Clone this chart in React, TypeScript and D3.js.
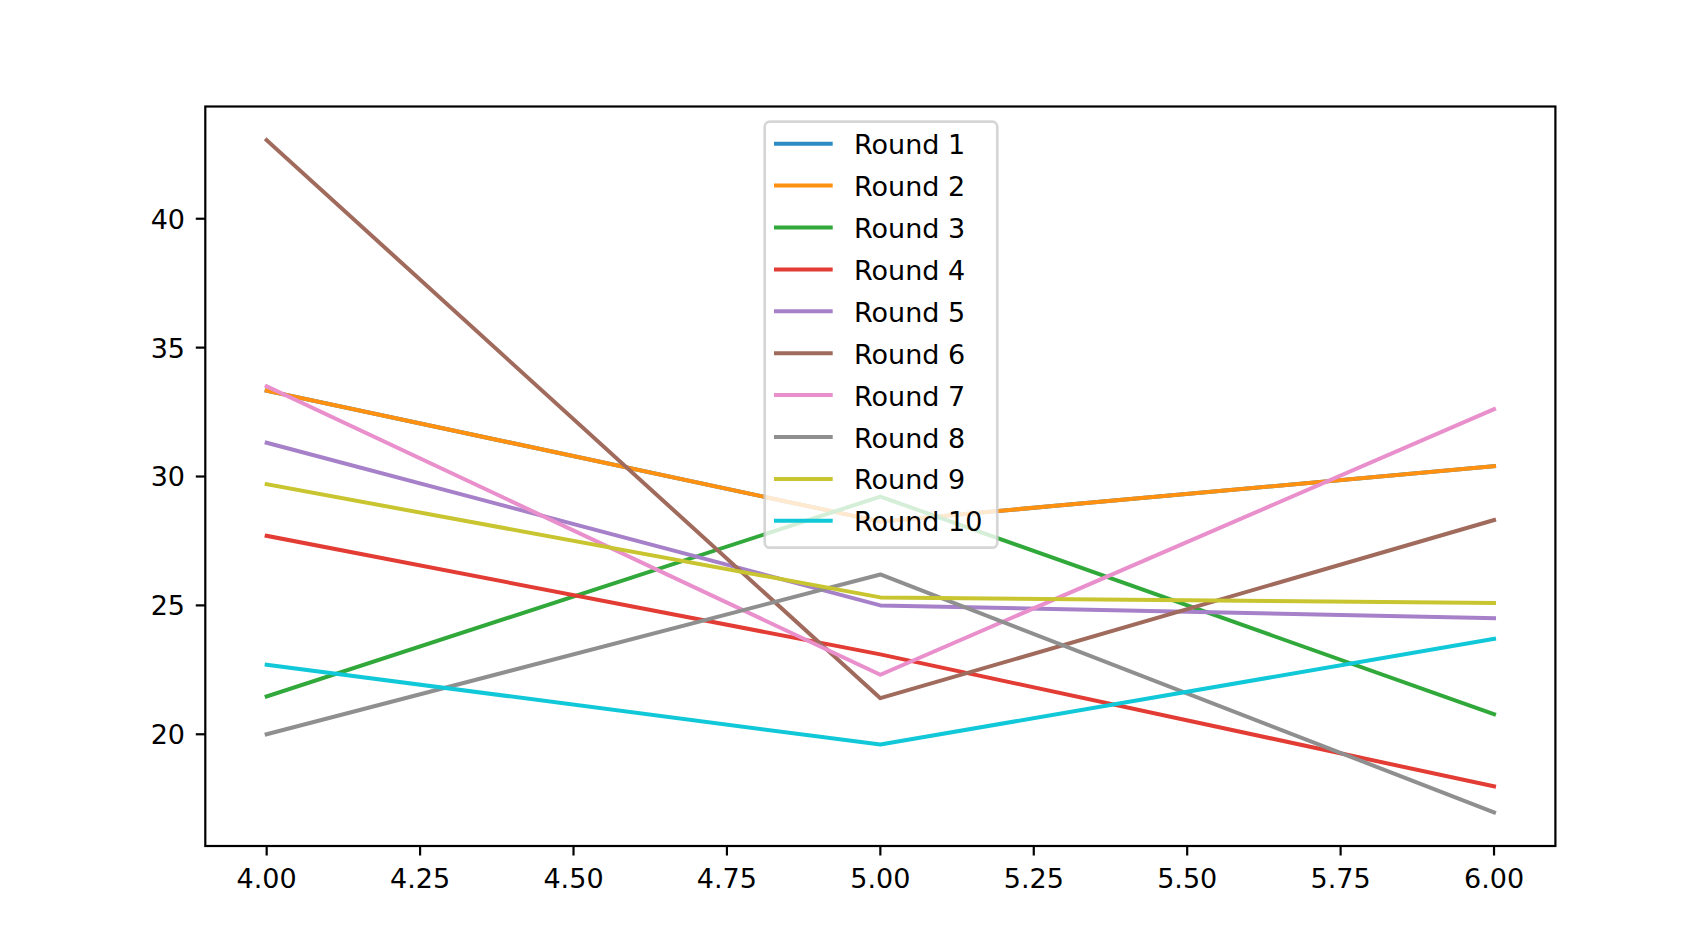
import React from "react";
import * as d3 from "d3";

const xValues = [4, 5, 6];
const seriesNames = ["Round 1", "Round 2", "Round 3", "Round 4", "Round 5", "Round 6", "Round 7", "Round 8", "Round 9", "Round 10"];
const round1 = [33.33, 28.25, 30.4];
const round2 = [33.33, 28.25, 30.4];
const round3 = [21.47, 29.22, 20.78];
const round4 = [27.7, 23.1, 17.98];
const round5 = [31.31, 25.0, 24.5];
const round6 = [43.05, 21.4, 28.31];
const round7 = [33.5, 22.31, 32.61];
const round8 = [20.0, 26.2, 16.97];
const round9 = [29.7, 25.31, 25.09];
const round10 = [22.7, 19.6, 23.7];
const seriesValues = [round1, round2, round3, round4, round5, round6, round7, round8, round9, round10];
const colors = ["#2b8cc4", "#ff9010", "#30a83a", "#e23c34", "#a680c8", "#a06a5c", "#e88fcc", "#8f8f8f", "#c8c530", "#10c8d8"];
const xTicks = [4, 4.25, 4.5, 4.75, 5, 5.25, 5.5, 5.75, 6];
const yTicks = [20, 25, 30, 35, 40];

const W = 1708;
const H = 940;
const L = 205.3, R = 1555.4, T = 106.5, B = 846;
const FONT = "'DejaVu Sans', sans-serif";
const FS = 27;

export default function App() {
  const xPad = (d3.max(xValues)! - d3.min(xValues)!) * 0.05;
  const x = d3.scaleLinear().domain([d3.min(xValues)! - xPad, d3.max(xValues)! + xPad]).range([L, R]);
  const all = seriesValues.flat();
  const yMin = d3.min(all)!, yMax = d3.max(all)!;
  const yPad = (yMax - yMin) * 0.05;
  const y = d3.scaleLinear().domain([yMin - yPad, yMax + yPad]).range([B, T]);
  const line = d3.line<number>().x((_, i) => x(xValues[i])).y((v) => y(v));
  const fmt = d3.format(".2f");

  const legX = 764.7, legY = 121.7, legW = 232.6, legH = 426;
  const row0 = 143.7, rowStep = 41.9;

  return (
    <div style={{ position: "fixed", left: 0, top: 0, width: W, height: H, background: "#fff" }}>
      <svg width={W} height={H} style={{ display: "block" }} fontFamily={FONT}>
        <rect x={0} y={0} width={W} height={H} fill="#fff" />
        <g>
          {seriesValues.map((vals, i) => (
            <path key={i} d={line(vals) || ""} fill="none" stroke={colors[i]} strokeWidth={4} strokeLinejoin="round" strokeLinecap="square" />
          ))}
        </g>
        {/* spines */}
        <rect x={L} y={T} width={R - L} height={B - T} fill="none" stroke="#000" strokeWidth={2.2} />
        {/* x ticks */}
        {xTicks.map((t) => (
          <g key={"x" + t}>
            <line x1={x(t)} x2={x(t)} y1={B} y2={B + 9.5} stroke="#000" strokeWidth={2.2} />
            <text x={x(t)} y={887.5} textAnchor="middle" fontSize={FS} fill="#000">{fmt(t)}</text>
          </g>
        ))}
        {/* y ticks */}
        {yTicks.map((t) => (
          <g key={"y" + t}>
            <line x1={L - 9.5} x2={L} y1={y(t)} y2={y(t)} stroke="#000" strokeWidth={2.2} />
            <text x={185} y={y(t)} dy="0.37em" textAnchor="end" fontSize={FS} fill="#000">{t}</text>
          </g>
        ))}
        {/* legend */}
        <rect x={legX} y={legY} width={legW} height={legH} rx={5} ry={5} fill="#fff" fillOpacity={0.8} stroke="#cccccc" strokeOpacity={0.8} strokeWidth={2.7} />
        {seriesNames.map((name, i) => {
          const ry = row0 + i * rowStep;
          return (
            <g key={name}>
              <line x1={774} x2={832.7} y1={ry} y2={ry} stroke={colors[i]} strokeWidth={4} />
              <text x={854} y={ry + 10.5} fontSize={FS} fill="#000">{name}</text>
            </g>
          );
        })}
      </svg>
    </div>
  );
}
